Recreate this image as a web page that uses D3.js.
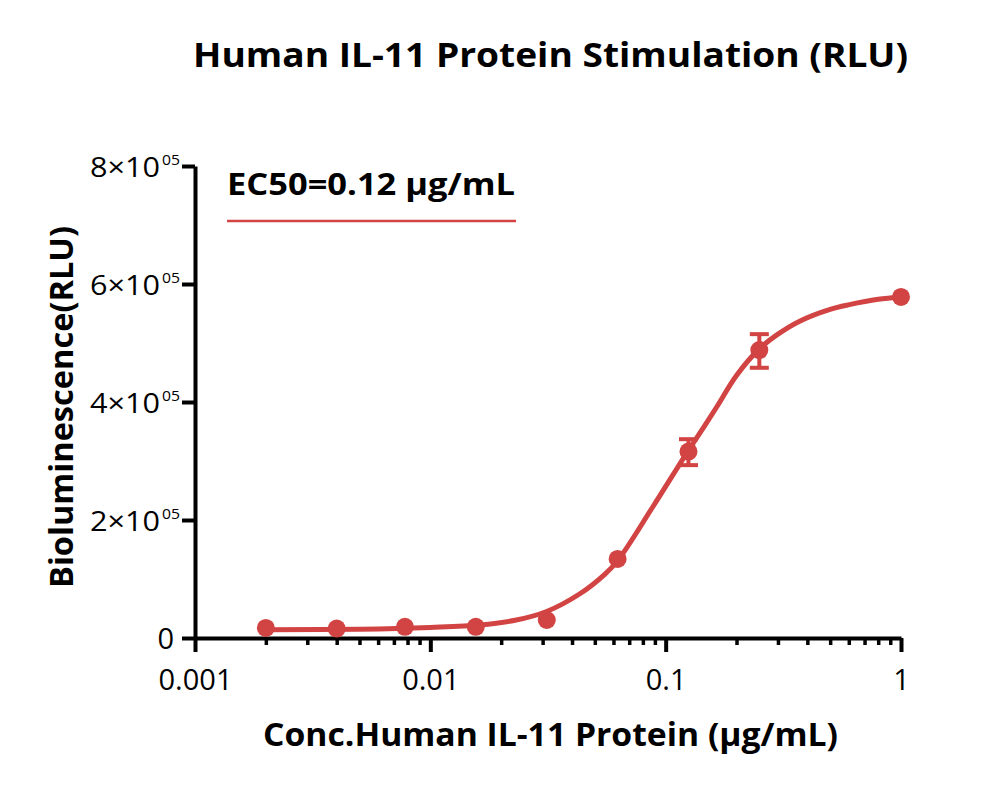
<!DOCTYPE html>
<html>
<head>
<meta charset="utf-8">
<script src="https://cdn.jsdelivr.net/npm/d3@7/dist/d3.min.js"></script>
<style>
  html, body { margin: 0; padding: 0; background: #ffffff; }
  svg { display: block; }
  text { font-family: "Open Sans", "Liberation Sans", sans-serif; fill: #000; }
</style>
</head>
<body>
<svg id="chart" width="1000" height="789"></svg>
<script>
// ---- Data ----
const concentrations = [0.002, 0.004, 0.0078, 0.0156, 0.03125, 0.0625, 0.125, 0.25, 1];
const meanRLU        = [17000, 16000, 19000, 19000, 30500, 134000, 316000, 488000, 578000];
const errLow         = [17000, 16000, 19000, 19000, 30500, 134000, 293000, 458000, 578000];
const errHigh        = [17000, 16000, 19000, 19000, 30500, 134000, 337000, 515000, 578000];
// fitted curve
const fitX = [0.002, 0.005, 0.01, 0.0162, 0.0229, 0.0312, 0.0432, 0.0551, 0.0625, 0.0881, 0.124, 0.1466, 0.165, 0.2, 0.25, 0.3, 0.371, 0.5, 0.604, 0.8, 1.0];
const fitY = [14000, 15000, 18000, 22000, 30000, 45000, 75000, 108000, 131000, 222000, 316000, 360000, 392000, 445000, 490000, 515000, 537000, 557000, 565000, 574000, 578000];
const xMajorTicks = [0.001, 0.01, 0.1, 1];
const xMajorLabels = ["0.001", "0.01", "0.1", "1"];
const yTicks = [0, 200000, 400000, 600000, 800000];
const yTickMantissa = ["0", "2×10", "4×10", "6×10", "8×10"];
const yTickExponent = ["", "05", "05", "05", "05"];
const titleText = "Human IL-11 Protein Stimulation (RLU)";
const xLabelText = "Conc.Human IL-11 Protein (μg/mL)";
const yLabelText = "Bioluminescence(RLU)";
const ec50Text = "EC50=0.12 μg/mL";

const red = "#d24443";
const svg = d3.select("#chart");

const x = d3.scaleLog().domain([0.001, 1]).range([195, 901]);
const y = d3.scaleLinear().domain([0, 800000]).range([638, 166]);

// minor ticks 2..9 per decade
const xMinorTicks = [];
for (let i = 0; i < xMajorTicks.length - 1; i++) {
  for (let m = 2; m <= 9; m++) xMinorTicks.push(+(xMajorTicks[i] * m).toPrecision(3));
}

// ---- Axes ----
const gxMinor = svg.append("g").attr("transform", "translate(0,638)")
  .call(d3.axisBottom(x).tickValues(xMinorTicks).tickSize(7).tickSizeOuter(0).tickFormat(""));
gxMinor.select(".domain").remove();
gxMinor.selectAll(".tick line").attr("stroke", "#000").attr("stroke-width", 3.5);

const gx = svg.append("g").attr("transform", "translate(0,638)")
  .call(d3.axisBottom(x).tickValues(xMajorTicks).tickSize(14).tickSizeOuter(0)
    .tickFormat((d, i) => xMajorLabels[i]));
gx.select(".domain").attr("stroke", "#000").attr("stroke-width", 4);
gx.selectAll(".tick line").attr("stroke", "#000").attr("stroke-width", 4);
gx.selectAll(".tick text").attr("font-size", 29).attr("y", 0).attr("dy", 0)
  .attr("transform", "translate(0,52)")
  .style("font-family", "'Open Sans', sans-serif").attr("fill", "#000");

const gy = svg.append("g").attr("transform", "translate(195,0)")
  .call(d3.axisLeft(y).tickValues(yTicks).tickSize(13).tickSizeOuter(0).tickFormat(""));
gy.select(".domain").attr("stroke", "#000").attr("stroke-width", 4);
gy.selectAll(".tick line").attr("stroke", "#000").attr("stroke-width", 4);

// y tick labels with superscript exponent
const yl = svg.append("g");
yTicks.forEach((v, i) => {
  const ty = y(v);
  if (yTickExponent[i] === "") {
    yl.append("text").attr("x", 174).attr("y", ty + 10.5)
      .attr("text-anchor", "end").attr("font-size", 29).text(yTickMantissa[i]);
  } else {
    yl.append("text").attr("x", 90).attr("y", ty + 11)
      .attr("font-size", 28).attr("textLength", 70).attr("lengthAdjust", "spacingAndGlyphs")
      .text(yTickMantissa[i]);
    yl.append("text").attr("x", 162).attr("y", ty - 1)
      .attr("font-size", 14).attr("textLength", 18).attr("lengthAdjust", "spacingAndGlyphs")
      .text(yTickExponent[i]);
  }
});

// ---- Fitted curve ----
const fitData = fitX.map((v, i) => [v, fitY[i]]);
svg.append("path").datum(fitData)
  .attr("fill", "none").attr("stroke", red).attr("stroke-width", 5)
  .attr("stroke-linecap", "round")
  .attr("d", d3.line().x(d => x(d[0])).y(d => y(d[1])).curve(d3.curveCatmullRom.alpha(0.5)));

// ---- Error bars ----
const pts = concentrations.map((c, i) => ({c, m: meanRLU[i], lo: errLow[i], hi: errHigh[i]}));
const eb = svg.append("g").attr("stroke", red).attr("stroke-width", 4);
pts.filter(d => d.hi - d.lo > 0).forEach(d => {
  const cx = x(d.c);
  eb.append("line").attr("x1", cx).attr("x2", cx).attr("y1", y(d.lo)).attr("y2", y(d.hi));
  eb.append("line").attr("x1", cx - 9.5).attr("x2", cx + 9.5).attr("y1", y(d.lo)).attr("y2", y(d.lo));
  eb.append("line").attr("x1", cx - 9.5).attr("x2", cx + 9.5).attr("y1", y(d.hi)).attr("y2", y(d.hi));
});

// ---- Points ----
svg.append("g").selectAll("circle").data(pts).join("circle")
  .attr("cx", d => x(d.c)).attr("cy", d => y(d.m)).attr("r", 9).attr("fill", red);

// ---- Texts ----
svg.append("text").attr("x", 193).attr("y", 67)
  .attr("font-size", 34).attr("font-weight", "bold")
  .attr("textLength", 715).attr("lengthAdjust", "spacingAndGlyphs")
  .text(titleText);

svg.append("text").attr("x", 227).attr("y", 195)
  .attr("font-size", 30).attr("font-weight", "bold")
  .attr("textLength", 288).attr("lengthAdjust", "spacingAndGlyphs")
  .text(ec50Text);
svg.append("line").attr("x1", 227).attr("x2", 516).attr("y1", 221).attr("y2", 221)
  .attr("stroke", red).attr("stroke-width", 2.5);

svg.append("text").attr("x", 263).attr("y", 746)
  .attr("font-size", 32).attr("font-weight", "bold")
  .attr("textLength", 575).attr("lengthAdjust", "spacingAndGlyphs")
  .text(xLabelText);

svg.append("text")
  .attr("transform", "translate(73,588) rotate(-90)")
  .attr("font-size", 32).attr("font-weight", "bold")
  .attr("textLength", 362).attr("lengthAdjust", "spacingAndGlyphs")
  .text(yLabelText);
</script>
</body>
</html>
